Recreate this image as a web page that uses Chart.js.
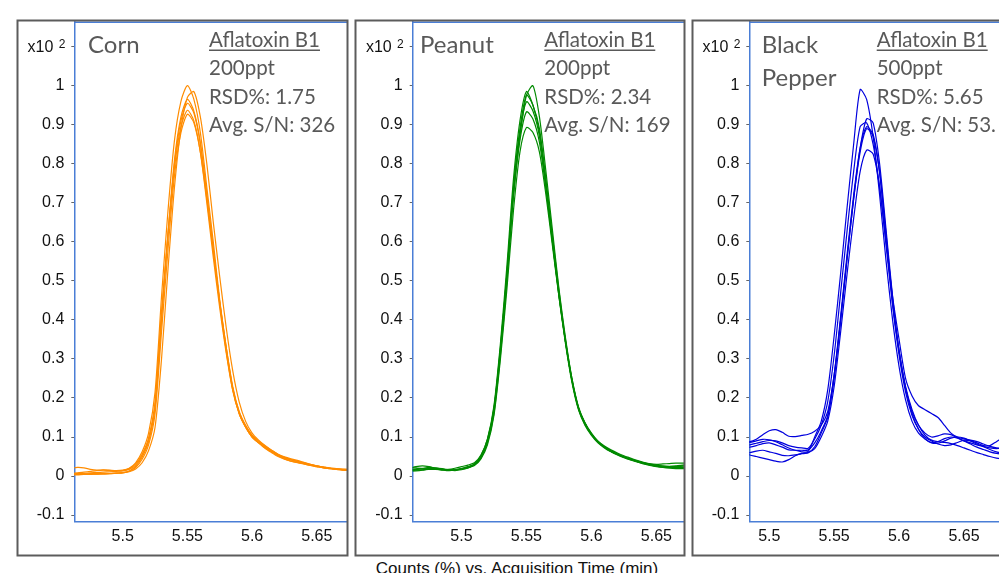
<!DOCTYPE html>
<html>
<head>
<meta charset="utf-8">
<script src="https://cdn.jsdelivr.net/npm/chart.js@4.4.1/dist/chart.umd.min.js"></script>
<style>
  html, body { margin:0; padding:0; background:#fff; overflow:hidden; width:999px; height:573px; }
  .panel { position:absolute; top:19px; }
  #xtitle { position:absolute; left:317px; width:400px; top:559.5px; text-align:center;
            font:17px "Liberation Sans", Arial, sans-serif; line-height:17px; color:#111; white-space:nowrap; }
</style>
</head>
<body>
<canvas id="p1" class="panel" width="333" height="538" style="left:16px"></canvas>
<canvas id="p2" class="panel" width="332" height="538" style="left:354px"></canvas>
<canvas id="p3" class="panel" width="333" height="538" style="left:691px"></canvas>
<div id="xtitle">Counts (%) vs. Acquisition Time (min)</div>
<script>
// acquisition time grids (min)
const timeCP = [5.460,5.465,5.470,5.475,5.480,5.485,5.490,5.495,5.500,5.505,5.510,5.515,5.520,5.525,5.530,5.535,5.540,5.545,5.550,5.555,5.560,5.565,5.570,5.575,5.580,5.585,5.590,5.595,5.600,5.605,5.610,5.615,5.620,5.625,5.630,5.635,5.640,5.645,5.650,5.655,5.660,5.665,5.670,5.675];
const timePep = [5.480,5.485,5.490,5.495,5.500,5.505,5.510,5.515,5.520,5.525,5.530,5.535,5.540,5.545,5.550,5.555,5.560,5.565,5.570,5.575,5.580,5.585,5.590,5.595,5.600,5.605,5.610,5.615,5.620,5.625,5.630,5.635,5.640,5.645,5.650,5.655,5.660,5.665,5.670,5.675,5.680,5.685,5.690,5.695];

// replicate injections, counts x10^2
const cornRuns = [
  [0.020,0.022,0.021,0.017,0.015,0.016,0.015,0.014,0.015,0.020,0.034,0.062,0.110,0.215,0.46,0.68,0.86,0.96,1.0,0.965,0.88,0.74,0.60,0.45,0.33,0.225,0.16,0.125,0.10,0.085,0.072,0.062,0.053,0.046,0.041,0.037,0.033,0.029,0.025,0.022,0.020,0.018,0.016,0.015],
  [0.005,0.005,0.005,0.006,0.006,0.007,0.007,0.008,0.009,0.011,0.018,0.034,0.065,0.125,0.30,0.53,0.74,0.89,0.97,0.985,0.92,0.80,0.65,0.51,0.38,0.27,0.19,0.14,0.11,0.092,0.078,0.066,0.056,0.048,0.042,0.037,0.033,0.029,0.026,0.023,0.020,0.018,0.017,0.016],
  [0.004,0.004,0.004,0.005,0.005,0.006,0.006,0.007,0.008,0.013,0.025,0.048,0.088,0.175,0.40,0.62,0.81,0.92,0.965,0.935,0.855,0.72,0.58,0.44,0.32,0.22,0.16,0.125,0.10,0.086,0.074,0.063,0.052,0.044,0.038,0.034,0.031,0.027,0.024,0.021,0.019,0.017,0.016,0.015],
  [0.006,0.006,0.007,0.008,0.009,0.010,0.011,0.012,0.013,0.017,0.028,0.052,0.092,0.18,0.41,0.62,0.80,0.91,0.955,0.93,0.85,0.72,0.58,0.445,0.325,0.225,0.165,0.13,0.105,0.09,0.077,0.066,0.056,0.049,0.044,0.040,0.035,0.030,0.026,0.023,0.021,0.019,0.018,0.017],
  [0.007,0.008,0.010,0.012,0.014,0.015,0.014,0.013,0.014,0.019,0.031,0.056,0.098,0.19,0.42,0.62,0.79,0.895,0.937,0.91,0.83,0.70,0.56,0.43,0.315,0.22,0.16,0.125,0.10,0.085,0.071,0.06,0.05,0.043,0.038,0.035,0.031,0.027,0.024,0.021,0.019,0.017,0.015,0.014],
  [0.003,0.003,0.004,0.004,0.005,0.005,0.006,0.007,0.008,0.012,0.022,0.043,0.080,0.16,0.37,0.58,0.77,0.88,0.927,0.905,0.83,0.71,0.575,0.445,0.33,0.23,0.165,0.128,0.102,0.087,0.075,0.064,0.054,0.047,0.042,0.038,0.034,0.030,0.026,0.023,0.020,0.018,0.016,0.014]
];
const peanutRuns = [
  [0.020,0.024,0.026,0.024,0.020,0.017,0.015,0.016,0.019,0.023,0.029,0.046,0.085,0.16,0.31,0.50,0.72,0.87,0.975,1.0,0.92,0.78,0.63,0.48,0.355,0.25,0.175,0.135,0.108,0.088,0.075,0.064,0.056,0.049,0.043,0.038,0.033,0.029,0.025,0.023,0.022,0.022,0.022,0.022],
  [0.012,0.013,0.015,0.018,0.020,0.019,0.016,0.014,0.016,0.021,0.030,0.052,0.095,0.18,0.34,0.54,0.76,0.91,0.985,0.95,0.88,0.75,0.605,0.465,0.345,0.245,0.172,0.132,0.106,0.087,0.074,0.063,0.055,0.048,0.043,0.038,0.034,0.031,0.030,0.031,0.032,0.033,0.033,0.033],
  [0.015,0.017,0.018,0.019,0.018,0.016,0.014,0.015,0.018,0.022,0.029,0.048,0.088,0.17,0.325,0.52,0.74,0.89,0.976,0.95,0.89,0.76,0.615,0.475,0.35,0.25,0.178,0.137,0.11,0.09,0.077,0.067,0.059,0.052,0.046,0.04,0.035,0.031,0.028,0.026,0.025,0.025,0.026,0.027],
  [0.022,0.021,0.019,0.018,0.017,0.016,0.017,0.020,0.024,0.028,0.034,0.054,0.094,0.175,0.33,0.52,0.73,0.88,0.959,0.935,0.87,0.74,0.60,0.46,0.34,0.24,0.17,0.13,0.104,0.085,0.072,0.062,0.054,0.047,0.041,0.036,0.031,0.027,0.024,0.023,0.024,0.026,0.028,0.029],
  [0.017,0.018,0.020,0.022,0.021,0.018,0.016,0.016,0.019,0.024,0.031,0.050,0.090,0.17,0.32,0.51,0.715,0.86,0.933,0.915,0.855,0.735,0.60,0.465,0.345,0.245,0.175,0.135,0.108,0.088,0.075,0.065,0.057,0.05,0.044,0.039,0.034,0.030,0.027,0.025,0.024,0.024,0.025,0.026],
  [0.014,0.015,0.016,0.017,0.017,0.016,0.015,0.016,0.018,0.021,0.027,0.044,0.080,0.155,0.30,0.48,0.68,0.83,0.893,0.88,0.83,0.72,0.59,0.46,0.345,0.245,0.175,0.135,0.107,0.087,0.074,0.063,0.055,0.048,0.042,0.037,0.032,0.028,0.025,0.022,0.020,0.019,0.019,0.019]
];
const pepperRuns = [
  [0.09,0.088,0.094,0.106,0.116,0.119,0.112,0.102,0.101,0.104,0.107,0.115,0.13,0.165,0.26,0.40,0.56,0.71,0.84,0.915,0.905,0.80,0.63,0.46,0.32,0.225,0.165,0.13,0.11,0.10,0.103,0.108,0.106,0.098,0.09,0.085,0.08,0.076,0.072,0.07,0.072,0.076,0.08,0.082],
  [0.085,0.086,0.09,0.094,0.093,0.088,0.08,0.072,0.066,0.062,0.063,0.10,0.14,0.22,0.36,0.52,0.69,0.85,0.99,0.965,0.87,0.72,0.55,0.40,0.28,0.195,0.14,0.11,0.095,0.086,0.088,0.096,0.1,0.097,0.09,0.082,0.074,0.068,0.062,0.058,0.056,0.056,0.058,0.06],
  [0.078,0.08,0.084,0.088,0.091,0.09,0.085,0.078,0.074,0.072,0.071,0.095,0.13,0.19,0.31,0.47,0.63,0.78,0.895,0.905,0.85,0.74,0.60,0.46,0.35,0.25,0.205,0.18,0.17,0.16,0.15,0.13,0.11,0.10,0.095,0.092,0.088,0.082,0.076,0.072,0.07,0.07,0.072,0.074],
  [0.072,0.074,0.078,0.083,0.085,0.08,0.074,0.067,0.066,0.066,0.067,0.085,0.115,0.155,0.26,0.41,0.57,0.72,0.84,0.895,0.875,0.78,0.62,0.45,0.32,0.225,0.16,0.12,0.095,0.085,0.084,0.09,0.097,0.1,0.097,0.09,0.082,0.075,0.068,0.062,0.058,0.056,0.056,0.058],
  [0.058,0.06,0.064,0.066,0.062,0.058,0.053,0.052,0.054,0.057,0.06,0.075,0.11,0.15,0.25,0.40,0.56,0.71,0.83,0.89,0.87,0.775,0.61,0.44,0.31,0.215,0.155,0.12,0.1,0.09,0.082,0.078,0.08,0.086,0.092,0.09,0.085,0.078,0.078,0.088,0.098,0.1,0.098,0.095],
  [0.06,0.054,0.05,0.046,0.042,0.038,0.036,0.042,0.052,0.058,0.06,0.07,0.1,0.14,0.23,0.37,0.52,0.66,0.78,0.835,0.825,0.74,0.59,0.44,0.32,0.23,0.17,0.13,0.105,0.092,0.088,0.086,0.083,0.078,0.072,0.066,0.06,0.055,0.05,0.046,0.044,0.045,0.048,0.05]
];

const xTicks = [5.5, 5.55, 5.6, 5.65];
const yTicks = [-0.1, 0, 0.1, 0.2, 0.3, 0.4, 0.5, 0.6, 0.7, 0.8, 0.9, 1, 1.1];

const AXIS_BLUE = '#4a7ed6';
const FRAME = '#5c5c5c';
const NOTE = '#595959';
const TICK_FONT = '"Liberation Sans", Arial, sans-serif';
const NOTE_FONT = 'Lato, "Open Sans", sans-serif';

// frame, top axis line, x10^2 label and the sample notes
const panelDecor = {
  id: 'panelDecor',
  afterDraw(chart, args, opts){
    const ctx = chart.ctx, a = chart.chartArea;
    ctx.save();
    ctx.strokeStyle = AXIS_BLUE; ctx.lineWidth = 1.5;
    ctx.beginPath(); ctx.moveTo(a.left, a.top + 0.5); ctx.lineTo(a.right, a.top + 0.5); ctx.stroke();

    ctx.strokeStyle = FRAME; ctx.lineWidth = 2;
    ctx.strokeRect(1.5, 1.5, chart.width - 3, chart.height - 3);

    // exponent label at the top tick
    const yy = chart.scales.y.getPixelForValue(1.1);
    ctx.fillStyle = '#111'; ctx.textAlign = 'right'; ctx.textBaseline = 'middle';
    ctx.font = '16px ' + TICK_FONT;
    ctx.fillText('x10', a.left - 21, yy + 1);
    ctx.font = '12px ' + TICK_FONT;
    ctx.fillText('2', a.left - 9, yy - 2);

    ctx.textAlign = 'left'; ctx.textBaseline = 'alphabetic'; ctx.fillStyle = NOTE;
    opts.notes.forEach(n => {
      ctx.font = n.size + 'px ' + NOTE_FONT;
      ctx.fillText(n.text, n.x, n.y);
      if (n.underline){
        const w = ctx.measureText(n.text).width;
        ctx.strokeStyle = NOTE; ctx.lineWidth = 1.5;
        ctx.beginPath(); ctx.moveTo(n.x, n.y + 3.5); ctx.lineTo(n.x + w, n.y + 3.5); ctx.stroke();
      }
    });
    ctx.restore();
  }
};

function makePanel(id, times, runs, color, xmin, xmax, yWidth, notes){
  const datasets = runs.map(run => ({
    data: run.map((v, i) => ({x: times[i], y: v})),
    borderColor: color, borderWidth: 1.2, pointRadius: 0, fill: false, tension: 0.25
  }));
  return new Chart(document.getElementById(id), {
    type: 'line',
    data: { datasets },
    plugins: [panelDecor],
    options: {
      responsive: false, animation: false,
      layout: { padding: { top: 2.7, right: 1.5, left: 0, bottom: 0 } },
      plugins: { legend: {display: false}, tooltip: {enabled: false}, panelDecor: { notes } },
      scales: {
        x: {
          type: 'linear', min: xmin, max: xmax,
          afterBuildTicks: s => { s.ticks = xTicks.map(v => ({value: v})); },
          afterFit: s => { s.height = 35.3; s.paddingLeft = 0; s.paddingRight = 0; },
          grid: { display: false, drawTicks: false },
          border: { display: true, color: AXIS_BLUE, width: 1.5 },
          ticks: { color: '#111', font: { family: TICK_FONT, size: 16 }, padding: 5, maxRotation: 0,
                   callback: v => String(v) }
        },
        y: {
          min: -0.117, max: 1.164,
          afterBuildTicks: s => { s.ticks = yTicks.map(v => ({value: v})); },
          afterFit: s => { s.width = yWidth; s.paddingTop = 0; s.paddingBottom = 0; },
          grid: { display: true, drawOnChartArea: false, drawTicks: true, tickLength: 3, color: '#666' },
          border: { display: true, color: AXIS_BLUE, width: 1.5 },
          ticks: { color: '#111', font: { family: TICK_FONT, size: 16 }, padding: 7,
                   callback: v => v > 1.05 ? '' : String(Math.round(v * 10) / 10) }
        }
      }
    }
  });
}

makePanel('p1', timeCP, cornRuns, '#ff8c00', 5.4626, 5.6737, 58.3, [
  {text: 'Corn', x: 72, y: 33.7, size: 24},
  {text: 'Aflatoxin B1', x: 193, y: 27.7, size: 20.5, underline: true},
  {text: '200ppt', x: 193, y: 56, size: 20.5},
  {text: 'RSD%: 1.75', x: 193, y: 85, size: 20.5},
  {text: 'Avg. S/N: 326', x: 193, y: 113.3, size: 20.5}
]);
makePanel('p2', timeCP, peanutRuns, '#008a00', 5.4625, 5.6716, 58.7, [
  {text: 'Peanut', x: 66, y: 33.7, size: 24},
  {text: 'Aflatoxin B1', x: 190.3, y: 27.7, size: 20.5, underline: true},
  {text: '200ppt', x: 190.3, y: 56, size: 20.5},
  {text: 'RSD%: 2.34', x: 190.3, y: 85, size: 20.5},
  {text: 'Avg. S/N: 169', x: 190.3, y: 113.3, size: 20.5}
]);
makePanel('p3', timePep, pepperRuns, '#0000dd', 5.4846, 5.6951, 58.3, [
  {text: 'Black', x: 70.7, y: 33.7, size: 24},
  {text: 'Pepper', x: 70.7, y: 67, size: 24},
  {text: 'Aflatoxin B1', x: 185.7, y: 27.7, size: 20.5, underline: true},
  {text: '500ppt', x: 185.7, y: 56, size: 20.5},
  {text: 'RSD%: 5.65', x: 185.7, y: 85, size: 20.5},
  {text: 'Avg. S/N: 53.', x: 185.7, y: 113.3, size: 20.5}
]);
</script>
</body>
</html>
